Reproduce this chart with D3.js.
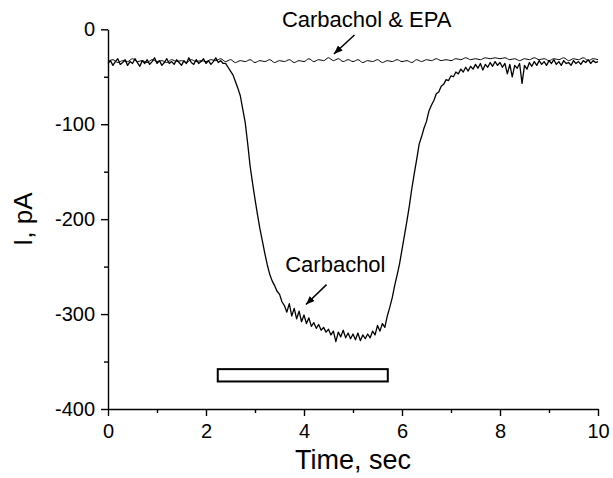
<!DOCTYPE html>
<html>
<head>
<meta charset="utf-8">
<script src="https://cdn.jsdelivr.net/npm/d3@7"></script>
<style>
    body { margin: 0; background: #fff; }
    svg { display: block; font-family: "Liberation Sans", Arial, sans-serif; }
    .axis path, .axis line { stroke: #000; stroke-width: 1.4; }
    .axis text { font-size: 20px; fill: #000; }
    .trace { fill: none; stroke: #000; stroke-linejoin: round; }
    .label { font-size: 22px; fill: #000; }
</style>
</head>
<body>
<svg id="chart" width="613" height="478"></svg>
<script>
/**
 * Data: whole-cell current (pA) against time (sec).
 */
const carbacholStep = 0.05; // sec between carbachol samples
const carbacholCurrent = [
    -36, -33, -38, -34, -31, -37, -35, -32, -38, -34,       // 0.0
    -36, -31, -35, -39, -33, -36, -32, -37, -34, -30,       // 0.5
    -36, -33, -38, -35, -31, -36, -34, -37, -32, -35,       // 1.0
    -38, -33, -36, -30, -35, -37, -32, -36, -34, -31,       // 1.5
    -36, -33, -37, -34, -30, -35, -33, -36, -36, -40,       // 2.0
    -44, -48, -55, -62, -70, -84, -98, -120, -144, -162,    // 2.5
    -179, -195, -210, -223, -236, -248, -258, -265, -270, -276, // 3.0
    -279, -287, -291, -298, -289, -302, -294, -305, -297, -308, // 3.5
    -301, -310, -304, -313, -309, -315, -311, -317, -314, -319, // 4.0
    -316, -322, -318, -329, -319, -324, -317, -325, -320, -326, // 4.5
    -321, -327, -320, -328, -322, -326, -321, -325, -318, -322, // 5.0
    -312, -318, -310, -314, -302, -293, -283, -270, -259, -247, // 5.5
    -232, -217, -202, -186, -168, -152, -137, -121, -113, -104, // 6.0
    -97, -86, -80, -75, -68, -66, -60, -58, -53, -54,       // 6.5
    -49, -50, -45, -47, -42, -45, -40, -44, -39, -42,       // 7.0
    -37, -41, -36, -43, -37, -40, -35, -39, -34, -38,       // 7.5
    -35, -40, -36, -47, -37, -50, -38, -41, -36, -57,       // 8.0
    -38, -42, -35, -39, -34, -38, -33, -37, -34, -38,       // 8.5
    -33, -36, -32, -37, -34, -38, -33, -36, -35, -38,       // 9.0
    -33, -36, -34, -37, -33, -35, -32, -36, -33, -35,       // 9.5
    -34                                                     // 10.0
];

const epaStep = 0.1; // sec between carbachol & EPA samples
const carbacholEpaCurrent = [
    -34, -32, -35, -33, -34, -31, -34, -33, -35, -32,   // 0
    -34, -33, -35, -32, -34, -33, -35, -32, -34, -33,   // 1
    -34, -32, -33, -31, -34, -32, -35, -33, -34, -32,   // 2
    -35, -33, -34, -32, -35, -33, -34, -32, -35, -33,   // 3
    -34, -31, -34, -32, -33, -30, -33, -31, -34, -32,   // 4
    -34, -32, -35, -33, -34, -32, -35, -33, -34, -32,   // 5
    -34, -33, -35, -32, -34, -32, -33, -31, -33, -32,   // 6
    -33, -31, -32, -30, -32, -31, -32, -30, -31, -30,   // 7
    -31, -30, -32, -31, -33, -31, -32, -30, -32, -31,   // 8
    -33, -31, -32, -30, -33, -31, -32, -30, -33, -31,   // 9
    -32                                                 // 10
];

// Carbachol application period (sec) and the current levels the bar spans
const stimulusTime = [2.24, 5.71];
const stimulusLevel = [-358, -371];

const traceNames = ['Carbachol', 'Carbachol & EPA'];

const xTicks = [0, 2, 4, 6, 8, 10],
    xMinorTicks = [1, 3, 5, 7, 9],
    yTicks = [0, -100, -200, -300, -400],
    yMinorTicks = [-50, -150, -250, -350];

/**
 * Visual configs.
 */
const margin = { top: 29.3, right: 15, bottom: 69, left: 108 },
    visWidth = 613, visHeight = 478,
    width = visWidth - margin.left - margin.right,
    height = visHeight - margin.top - margin.bottom;

const svg = d3.select('#chart');
const defs = svg.append('defs');
defs.append('marker')
    .attr('id', 'arrow')
    .attr('markerUnits', 'userSpaceOnUse')
    .attr('viewBox', '0 0 10 8')
    .attr('refX', 10).attr('refY', 4)
    .attr('markerWidth', 9).attr('markerHeight', 7)
    .attr('orient', 'auto')
    .append('path')
        .attr('d', 'M0,0L10,4L0,8Z')
        .attr('fill', '#000');

const xScale = d3.scaleLinear().domain([0, 10]).range([0, width]),
    yScale = d3.scaleLinear().domain([-400, 0]).range([height, 0]);

const vis = svg.append('g').attr('transform', 'translate(' + margin.left + ',' + margin.top + ')');

/**
 * Axes.
 */
const xAxisContainer = vis.append('g').attr('class', 'axis x-axis')
    .attr('transform', 'translate(0,' + height + ')');
xAxisContainer.call(d3.axisBottom(xScale).tickValues(xTicks)
    .tickSize(7).tickPadding(8).tickSizeOuter(0).tickFormat(d => String(d)));
xAxisContainer.append('g')
    .call(d3.axisBottom(xScale).tickValues(xMinorTicks).tickSize(4).tickFormat(''))
    .select('.domain').remove();

const yAxisContainer = vis.append('g').attr('class', 'axis y-axis');
yAxisContainer.call(d3.axisLeft(yScale).tickValues(yTicks)
    .tickSize(7).tickPadding(6).tickSizeOuter(0).tickFormat(d => String(d)));
yAxisContainer.append('g')
    .call(d3.axisLeft(yScale).tickValues(yMinorTicks).tickSize(4).tickFormat(''))
    .select('.domain').remove();

svg.selectAll('.axis .domain').attr('stroke-width', 1.6);

// Axis titles
svg.append('text')
    .attr('x', margin.left + width / 2)
    .attr('y', 469)
    .attr('text-anchor', 'middle')
    .style('font-size', '27px')
    .text('Time, sec');

svg.append('text')
    .attr('transform', 'translate(32,' + (margin.top + height / 2) + ') rotate(-90)')
    .attr('text-anchor', 'middle')
    .style('font-size', '26px')
    .text('I, pA');

/**
 * Traces.
 */
const line = d3.line()
    .x(d => xScale(d[0]))
    .y(d => yScale(d[1]));

const carbacholData = carbacholCurrent.map((v, i) => [i * carbacholStep, v]),
    epaData = carbacholEpaCurrent.map((v, i) => [i * epaStep, v]);

vis.append('path').attr('class', 'trace epa')
    .attr('d', line.curve(d3.curveMonotoneX)(epaData))
    .attr('stroke-width', 1);

vis.append('path').attr('class', 'trace carbachol')
    .attr('d', line.curve(d3.curveLinear)(carbacholData))
    .attr('stroke-width', 1.3);

// Stimulus bar
vis.append('rect')
    .attr('x', xScale(stimulusTime[0]))
    .attr('y', yScale(stimulusLevel[0]))
    .attr('width', xScale(stimulusTime[1]) - xScale(stimulusTime[0]))
    .attr('height', yScale(stimulusLevel[1]) - yScale(stimulusLevel[0]))
    .attr('fill', '#fff')
    .attr('stroke', '#000')
    .attr('stroke-width', 2);

/**
 * Annotations: label anchor and arrow, in data coordinates.
 */
const annotations = [
    { name: traceNames[0], at: [4.64, -256], from: [4.46, -269], to: [4.04, -290] },
    { name: traceNames[1], at: [5.28, 2.4], from: [5.03, -6], to: [4.61, -26] }
];

annotations.forEach(a => {
    vis.append('text').attr('class', 'label')
        .attr('x', xScale(a.at[0]))
        .attr('y', yScale(a.at[1]))
        .attr('text-anchor', 'middle')
        .text(a.name);

    vis.append('line')
        .attr('x1', xScale(a.from[0])).attr('y1', yScale(a.from[1]))
        .attr('x2', xScale(a.to[0])).attr('y2', yScale(a.to[1]))
        .attr('stroke', '#000')
        .attr('stroke-width', 1.5)
        .attr('marker-end', 'url(#arrow)');
});
</script>
</body>
</html>
